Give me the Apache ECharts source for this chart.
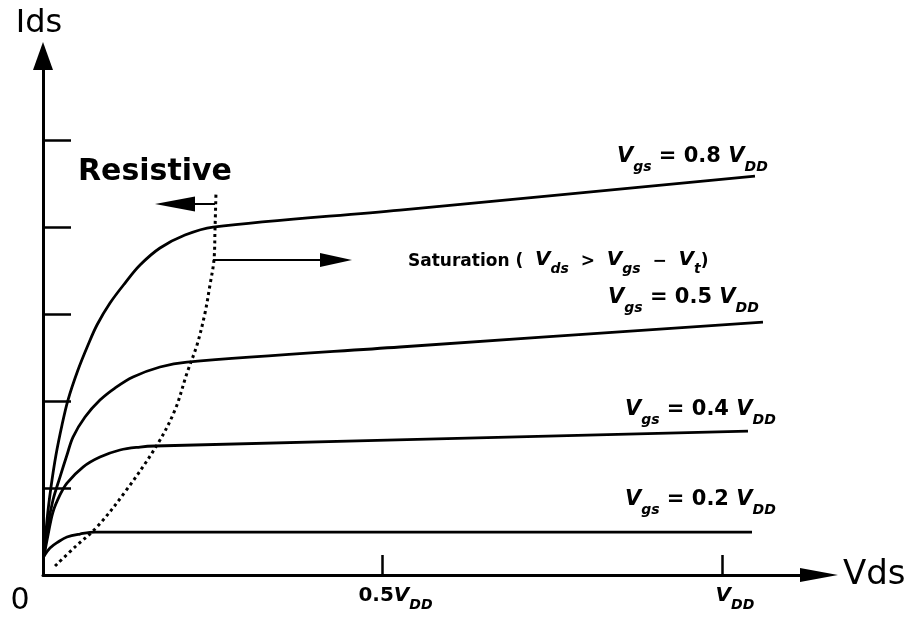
<!DOCTYPE html>
<html>
<head>
<meta charset="utf-8">
<script src="https://cdn.jsdelivr.net/npm/echarts@6/dist/echarts.min.js"></script>
<style>html,body{margin:0;padding:0;background:#fff}#c{width:919px;height:619px}</style>
</head>
<body>
<div id="c"></div>
<script>
// ---- data (x in units of V_DD, y in units of the Ids tick spacing) ----
const curveNames = ['Vgs=0.8VDD', 'Vgs=0.5VDD', 'Vgs=0.4VDD', 'Vgs=0.2VDD'];
const vgs08 = [[0.0015,0.218],[0.0059,0.632],[0.0118,1.011],[0.0191,1.379],[0.028,1.724],[0.0368,2.011],[0.0515,2.356],[0.0663,2.644],[0.0795,2.874],[0.0987,3.126],[0.1208,3.356],[0.1429,3.563],[0.1723,3.759],[0.2091,3.908],[0.2504,4.0],[0.5258,4.195],[1.0486,4.586]];
const vgs05 = [[0.0015,0.218],[0.0074,0.575],[0.0147,0.862],[0.025,1.126],[0.0353,1.379],[0.0442,1.586],[0.0619,1.816],[0.0839,2.011],[0.106,2.149],[0.1325,2.276],[0.1723,2.391],[0.2121,2.448],[0.5258,2.621],[1.0604,2.908]];
const vgs04 = [[0.0015,0.218],[0.0074,0.46],[0.0147,0.724],[0.025,0.92],[0.0353,1.057],[0.0589,1.241],[0.0839,1.356],[0.1134,1.437],[0.1429,1.471],[0.1649,1.483],[1.0383,1.655]];
const vgs02 = [[0.0015,0.218],[0.0103,0.31],[0.0221,0.379],[0.0353,0.437],[0.0545,0.471],[0.0766,0.494],[1.0442,0.494]];
const vdsat = [[0.0177,0.103],[0.0471,0.322],[0.0795,0.552],[0.1208,0.954],[0.1679,1.494],[0.1944,1.897],[0.2121,2.322],[0.2268,2.644],[0.2386,3.011],[0.2459,3.333],[0.2518,3.621],[0.2533,3.966],[0.2548,4.402]];

const xTickValues = [0, 0.5, 1];
const xTickLabels = ['0', '0.5V_DD', 'V_DD'];
const yTickValues = [1, 2, 3, 4, 5];

const annoTexts = ['V_gs = 0.8 V_DD', 'V_gs = 0.5 V_DD', 'V_gs = 0.4 V_DD', 'V_gs = 0.2 V_DD', 'Saturation (  V_ds  >  V_gs  \u2212  V_t)', 'Resistive'];
const annoX = [0.8453, 0.8321, 0.8571, 0.8571, 0.5376, 0.0515];
const annoY = [4.77, 3.149, 1.862, 0.828, 3.586, 4.632];
const annoKind = ['c', 'c', 'c', 'c', 'sat', 'res'];

const arrowLeft = [[0.2533, 4.264], [0.1944, 4.264]];
const arrowRight = [[0.2504, 3.621], [0.4315, 3.621]];

// ---- helpers ----
function toRich(str, tMain, tVar, tSub) {
  let out = '', last = 0, m;
  const re = /([A-Za-z])_([A-Za-z]+)/g;
  while ((m = re.exec(str)) !== null) {
    if (m.index > last) out += '{' + tMain + '|' + str.slice(last, m.index) + '}';
    out += '{' + tVar + '|' + m[1] + '}{' + tSub + '|' + m[2] + '}';
    last = re.lastIndex;
  }
  if (last < str.length) out += '{' + tMain + '|' + str.slice(last) + '}';
  return out;
}
const F = 'DejaVu Sans';
const K = '#000';
const richStyles = {
  ct: {fontFamily: F, fontWeight: 'bold', fontSize: 21, color: K, padding: [0,0,7,0], verticalAlign: 'bottom'},
  cv: {fontFamily: F, fontWeight: 'bold', fontStyle: 'italic', fontSize: 21, color: K, padding: [0,0,7,0], verticalAlign: 'bottom'},
  cs: {fontFamily: F, fontWeight: 'bold', fontStyle: 'italic', fontSize: 14, color: K, verticalAlign: 'bottom'},
  st: {fontFamily: F, fontWeight: 'bold', fontSize: 17, color: K, padding: [0,0,6,0], verticalAlign: 'bottom'},
  sv: {fontFamily: F, fontWeight: 'bold', fontStyle: 'italic', fontSize: 20, color: K, padding: [0,0,6,0], verticalAlign: 'bottom'},
  ss: {fontFamily: F, fontWeight: 'bold', fontStyle: 'italic', fontSize: 14, color: K, verticalAlign: 'bottom'},
  res: {fontFamily: F, fontWeight: 'bold', fontSize: 30, color: K}
};
const tickRich = {
  zero: {fontFamily: F, fontSize: 30, color: K, padding: [0,46,0,0]},
  gap: {width: 26},
  n: {fontFamily: F, fontWeight: 'bold', fontSize: 20, color: K, padding: [0,0,6,0], verticalAlign: 'bottom'},
  v: {fontFamily: F, fontWeight: 'bold', fontStyle: 'italic', fontSize: 20, color: K, padding: [0,0,6,0], verticalAlign: 'bottom'},
  s: {fontFamily: F, fontWeight: 'bold', fontStyle: 'italic', fontSize: 14, color: K, verticalAlign: 'bottom'}
};

function annoLabel(i) {
  const k = annoKind[i];
  if (k === 'res') return '{res|' + annoTexts[i] + '}';
  if (k === 'sat') return toRich(annoTexts[i], 'st', 'sv', 'ss');
  return toRich(annoTexts[i], 'ct', 'cv', 'cs');
}

const curveStyle = {color: K, width: 2.8};
function curve(name, data) {
  return {type: 'line', name: name, data: data, smooth: 0.35, showSymbol: false, symbol: 'none',
    lineStyle: curveStyle, silent: true, z: 3};
}

const chart = echarts.init(document.getElementById('c'), null, {renderer: 'canvas'});
chart.setOption({
  animation: false,
  backgroundColor: '#fff',
  grid: {left: 43, right: 100, top: 56, bottom: 44, containLabel: false},
  xAxis: {
    type: 'value', min: 0, max: 1.1429,
    name: 'Vds', nameLocation: 'end', nameGap: 24,
    nameTextStyle: {fontFamily: F, fontSize: 34, color: K},
    splitLine: {show: false},
    axisLine: {show: true, lineStyle: {color: K, width: 3}, symbol: ['none', 'triangle'], symbolSize: [14, 38]},
    axisTick: {show: true, inside: true, length: 20, customValues: [0.5, 1], lineStyle: {color: K, width: 2.5}},
    axisLabel: {
      show: true, margin: 11, customValues: xTickValues, color: K,
      formatter: function (v) {
        const i = xTickValues.indexOf(v);
        if (i === 0) return '{zero|' + xTickLabels[0] + '}';
        return '{gap| }' + toRich(xTickLabels[i], 'n', 'v', 's');
      },
      rich: tickRich
    }
  },
  yAxis: {
    type: 'value', min: 0, max: 5.966,
    name: 'Ids', nameLocation: 'end', nameGap: 16,
    nameTextStyle: {fontFamily: F, fontSize: 32, color: K, padding: [0, 8, 0, 0]},
    splitLine: {show: false},
    axisLine: {show: true, lineStyle: {color: K, width: 3}, symbol: ['none', 'triangle'], symbolSize: [20, 28]},
    axisTick: {show: true, inside: true, length: 28, customValues: yTickValues, lineStyle: {color: K, width: 2.5}},
    axisLabel: {show: false}
  },
  series: [
    curve(curveNames[0], vgs08),
    curve(curveNames[1], vgs05),
    curve(curveNames[2], vgs04),
    curve(curveNames[3], vgs02),
    {type: 'line', name: 'Vds,sat', data: vdsat, smooth: 0.35, showSymbol: false, symbol: 'none',
      lineStyle: {color: K, width: 3, type: [3, 3.5]}, silent: true, z: 2},
    {type: 'lines', coordinateSystem: 'cartesian2d', silent: true, z: 4,
      symbol: ['none', 'triangle'], symbolSize: [0, [15, 40]],
      lineStyle: {color: K, width: 2.2, opacity: 1},
      data: [{coords: arrowLeft}]},
    {type: 'lines', coordinateSystem: 'cartesian2d', silent: true, z: 4,
      symbol: ['none', 'triangle'], symbolSize: [0, [14, 32]],
      lineStyle: {color: K, width: 2.2, opacity: 1},
      data: [{coords: arrowRight}]},
    {type: 'scatter', symbolSize: 0, silent: true, clip: false, z: 5,
      itemStyle: {opacity: 1, color: K},
      data: annoTexts.map(function (t, i) {
        return {value: [annoX[i], annoY[i]], label: {show: true, position: 'right', distance: 0, color: K, opacity: 1, textBorderWidth: 0, formatter: annoLabel(i), rich: richStyles}};
      })
    }
  ]
});
</script>
</body>
</html>
